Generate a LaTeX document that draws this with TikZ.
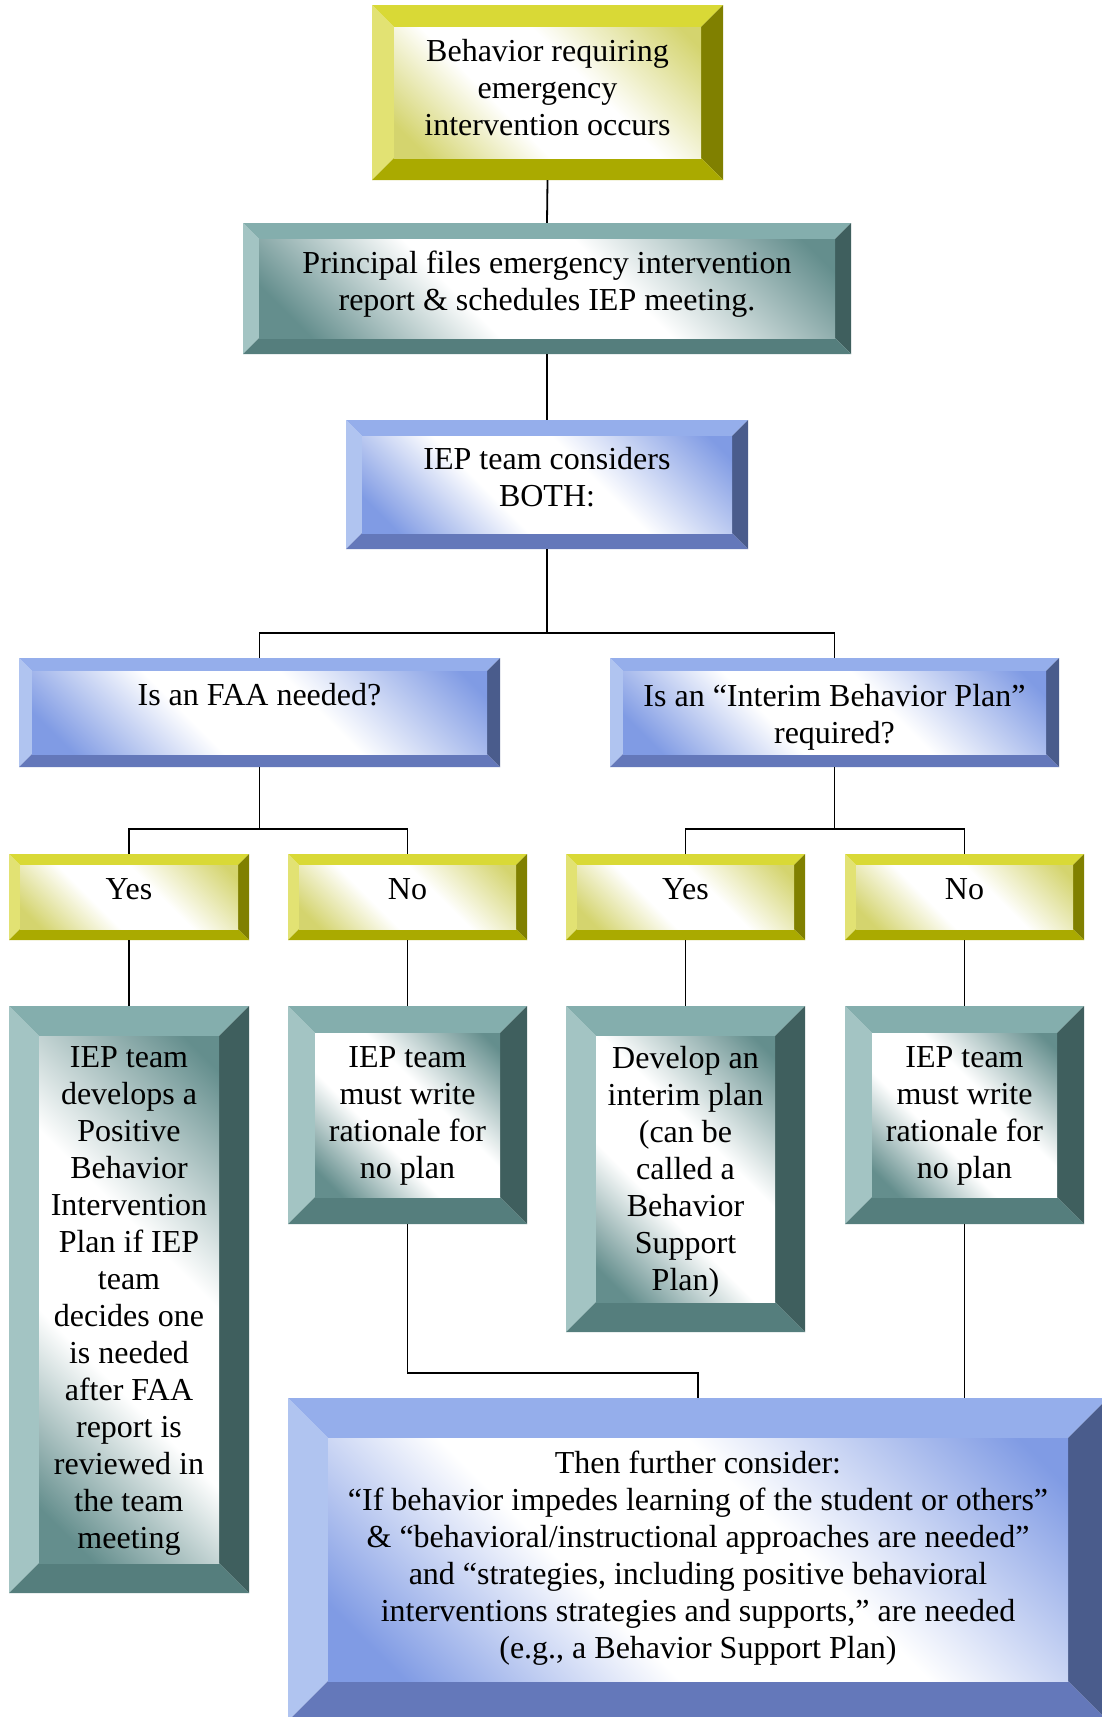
\documentclass[tikz,border=0pt]{standalone}
\usepackage{fontspec}
\setmainfont{Liberation Serif}
\usetikzlibrary{calc}
\definecolor{yelTc}{RGB}{217,217,54}
\definecolor{yelLc}{RGB}{226,226,115}
\definecolor{yelRc}{RGB}{128,128,0}
\definecolor{yelBc}{RGB}{170,170,0}
\definecolor{yelFc}{RGB}{212,212,110}
\definecolor{tealTc}{RGB}{132,174,173}
\definecolor{tealLc}{RGB}{163,196,195}
\definecolor{tealRc}{RGB}{63,95,94}
\definecolor{tealBc}{RGB}{85,126,125}
\definecolor{tealFc}{RGB}{100,142,141}
\definecolor{bluTc}{RGB}{149,174,235}
\definecolor{bluLc}{RGB}{176,196,240}
\definecolor{bluRc}{RGB}{74,92,140}
\definecolor{bluBc}{RGB}{100,120,186}
\definecolor{bluFc}{RGB}{128,155,228}
\pgfdeclareverticalshading{yelface}{100bp}{color(0bp)=(yelFc); color(20bp)=(yelFc); color(40bp)=(white); color(58bp)=(white); color(82bp)=(yelFc); color(100bp)=(yelFc)}
\pgfdeclareverticalshading{tealface}{100bp}{color(0bp)=(tealFc); color(20bp)=(tealFc); color(40bp)=(white); color(58bp)=(white); color(82bp)=(tealFc); color(100bp)=(tealFc)}
\pgfdeclareverticalshading{bluface}{100bp}{color(0bp)=(bluFc); color(20bp)=(bluFc); color(40bp)=(white); color(58bp)=(white); color(82bp)=(bluFc); color(100bp)=(bluFc)}
\tikzset{
  yelT/.style={fill=yelTc}, yelL/.style={fill=yelLc}, yelR/.style={fill=yelRc}, yelB/.style={fill=yelBc},
  yelF/.style={shading=yelface, shading angle=-45},
  tealT/.style={fill=tealTc}, tealL/.style={fill=tealLc}, tealR/.style={fill=tealRc}, tealB/.style={fill=tealBc},
  tealF/.style={shading=tealface, shading angle=-45},
  bluT/.style={fill=bluTc}, bluL/.style={fill=bluLc}, bluR/.style={fill=bluRc}, bluB/.style={fill=bluBc},
  bluF/.style={shading=bluface, shading angle=-45},
  boxnode/.style={inner sep=0pt},
  boxtext/.style={inner sep=0pt, align=center, text=black, font=\fontsize{32}{37}\selectfont},
  conn/.style={draw=black, line width=1.8pt}
}
% #1 name, #2 x1, #3 y1, #4 x2, #5 y2, #6 bevel, #7 palette, #8 text, #9 text offset (down)
\newcommand\bevbox[9]{%
  \fill[#7T] (#2,#3) -- (#4,#3) -- (#4-#6,#3+#6) -- (#2+#6,#3+#6) -- cycle;
  \fill[#7L] (#2,#3) -- (#2+#6,#3+#6) -- (#2+#6,#5-#6) -- (#2,#5) -- cycle;
  \fill[#7R] (#4,#3) -- (#4,#5) -- (#4-#6,#5-#6) -- (#4-#6,#3+#6) -- cycle;
  \fill[#7B] (#2,#5) -- (#2+#6,#5-#6) -- (#4-#6,#5-#6) -- (#4,#5) -- cycle;
  \shade[#7F] (#2+#6,#3+#6) rectangle (#4-#6,#5-#6);
  \node[boxnode, minimum width={#4-#2}, minimum height={#5-#3}] (#1) at ({(#2+#4)/2},{(#3+#5)/2}) {};
  \node[boxtext] (#1-t) at ({(#2+#4)/2},{(#3+#5)/2+#9}) {#8};
}
\begin{document}
\begin{tikzpicture}[x=1pt,y=-1pt]
\useasboundingbox (0,0) rectangle (1102,1717);
\fill[white] (0,0) rectangle (1102,1717);
\clip (0,0) rectangle (1102,1717);

\bevbox{b1}{372}{5}{723}{180}{22}{yel}{Behavior requiring\\emergency\\intervention occurs}{-4.7}
\bevbox{b2}{243}{223}{851}{354}{16}{teal}{Principal files emergency intervention\\report \& schedules IEP meeting.}{-4.2}
\bevbox{b3}{346}{420}{748}{549}{16}{blu}{IEP team considers\\BOTH:}{-7}
\bevbox{b4}{19}{658}{500}{767}{13}{blu}{Is an FAA needed?}{-17.5}
\bevbox{b5}{610}{658}{1059}{767}{13}{blu}{Is an “Interim Behavior Plan”\\required?}{4.5}
\bevbox{yes1}{9}{854}{249}{940}{11}{yel}{Yes}{-8}
\bevbox{no1}{288}{854}{527}{940}{11}{yel}{No}{-8}
\bevbox{yes2}{566}{854}{805}{940}{11}{yel}{Yes}{-8}
\bevbox{no2}{845}{854}{1084}{940}{11}{yel}{No}{-8}
\bevbox{bl}{9}{1006}{249}{1593}{30}{teal}{IEP team\\develops a\\Positive\\Behavior\\Intervention\\Plan if IEP\\team\\decides one\\is needed\\after FAA\\report is\\reviewed in\\the team\\meeting}{1}
\bevbox{bn1}{288}{1006}{527}{1224}{27}{teal}{IEP team\\must write\\rationale for\\no plan}{0.6}
\bevbox{by2}{566}{1006}{805}{1332}{30}{teal}{Develop an\\interim plan\\(can be\\called a\\Behavior\\Support\\Plan)}{2.5}
\bevbox{bn2}{845}{1006}{1084}{1224}{27}{teal}{IEP team\\must write\\rationale for\\no plan}{0.6}
\bevbox{bot}{288}{1398}{1108}{1721}{40}{blu}{Then further consider:\\“If behavior impedes learning of the student or others”\\\& “behavioral/instructional approaches are needed”\\and “strategies, including positive behavioral\\interventions strategies and supports,” are needed\\(e.g., a Behavior Support Plan)}{-1}

\coordinate (j1) at (547,633);
\coordinate (j2) at (259.5,829);
\coordinate (j3) at (834.5,829);
\coordinate (j4) at (407.5,1373);

\draw[conn] (b1.south) -- (b2.north);
\draw[conn] (b2.south) -- (b3.north);
\draw[conn] (b3.south) -- (j1);
\draw[conn] (b4.north) |- (j1) -| (b5.north);
\draw[conn] (b4.south) -- (j2);
\draw[conn] (yes1.north) |- (j2) -| (no1.north);
\draw[conn] (b5.south) -- (j3);
\draw[conn] (yes2.north) |- (j3) -| (no2.north);
\draw[conn] (yes1.south) -- (bl.north);
\draw[conn] (no1.south) -- (bn1.north);
\draw[conn] (yes2.south) -- (by2.north);
\draw[conn] (no2.south) -- (bn2.north);
\draw[conn] (bn1.south) -- (j4) -| (bot.north);
\draw[conn] (bn2.south) -- (bn2.south |- bot.north);
\end{tikzpicture}
\end{document}
